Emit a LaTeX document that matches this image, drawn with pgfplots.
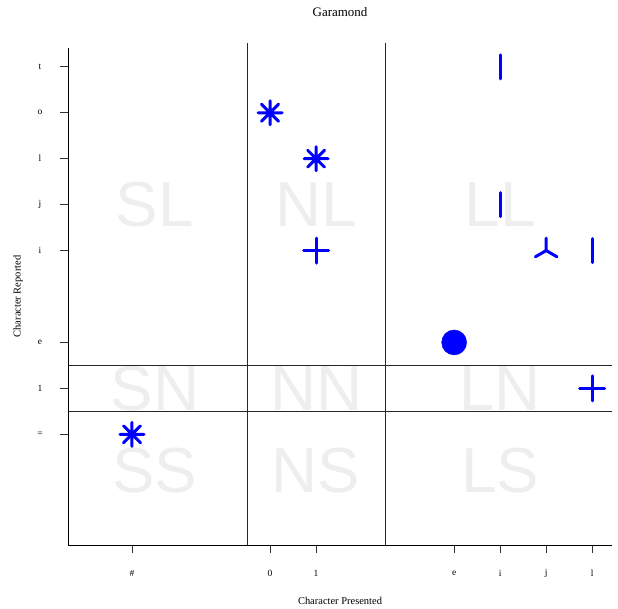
\documentclass[border=0pt]{standalone}
\usepackage{pgfplots}
\pgfplotsset{compat=1.18}
\usepackage{fontspec}
\setmainfont{Liberation Serif}
\newfontfamily\wmfont{Liberation Sans}
\definecolor{wm}{gray}{0.935}
\pgfdeclareplotmark{sun8}{%
  \pgfpathmoveto{\pgfqpoint{-\pgfplotmarksize}{0pt}}\pgfpathlineto{\pgfqpoint{\pgfplotmarksize}{0pt}}%
  \pgfpathmoveto{\pgfqpoint{0pt}{-\pgfplotmarksize}}\pgfpathlineto{\pgfqpoint{0pt}{\pgfplotmarksize}}%
  \pgfpathmoveto{\pgfqpoint{-.70710678\pgfplotmarksize}{-.70710678\pgfplotmarksize}}\pgfpathlineto{\pgfqpoint{.70710678\pgfplotmarksize}{.70710678\pgfplotmarksize}}%
  \pgfpathmoveto{\pgfqpoint{-.70710678\pgfplotmarksize}{.70710678\pgfplotmarksize}}\pgfpathlineto{\pgfqpoint{.70710678\pgfplotmarksize}{-.70710678\pgfplotmarksize}}%
  \pgfusepathqstroke}
\pgfdeclareplotmark{sun3}{%
  \pgfpathmoveto{\pgfpointorigin}\pgfpathlineto{\pgfqpoint{0pt}{\pgfplotmarksize}}%
  \pgfpathmoveto{\pgfpointorigin}\pgfpathlineto{\pgfqpoint{-.8660254\pgfplotmarksize}{-.5\pgfplotmarksize}}%
  \pgfpathmoveto{\pgfpointorigin}\pgfpathlineto{\pgfqpoint{.8660254\pgfplotmarksize}{-.5\pgfplotmarksize}}%
  \pgfusepathqstroke}
\begin{document}
\begin{tikzpicture}
\path[use as bounding box] (0,0) rectangle (618bp,609bp);
\begin{axis}[
  at={(68bp,64bp)}, anchor=south west, scale only axis,
  width=544bp, height=497bp,
  xmin=-4.39, xmax=7.43, ymin=-2.41, ymax=8.41,
  axis lines=left, axis line style={-, line width=0.8bp, black},
  xtick={-3,0,1,4,5,6,7}, xticklabels={\#,0,1,e,i,j,l},
  ytick={0,1,2,4,5,6,7,8}, yticklabels={=,1,e,i,j,l,o,t},
  tick align=outside, major tick length=8bp,
  tick style={line width=0.8bp, black!80},
  ticklabel style={font=\fontsize{9.5}{11}\selectfont},
  xticklabel style={anchor=center, yshift=-20bp},
  yticklabel style={anchor=center, xshift=-20bp},
  title=Garamond,
  title style={font=\fontsize{13}{15}\selectfont, at={(axis description cs:0.5,1.0594)}, anchor=center},
  xlabel=Character Presented,
  xlabel style={font=\fontsize{10.5}{12}\selectfont, at={(axis description cs:0.5,-0.1127)}, anchor=center},
  ylabel=Character Reported,
  ylabel style={font=\fontsize{10.5}{12}\selectfont, at={(axis description cs:-0.0919,0.5)}, anchor=center},
  clip=false,
]
% watermark region labels
\foreach \lab/\xx/\yy in {SL/-2.5/5, NL/1/5, LL/5/5, SN/-2.5/1, NN/1/1, LN/5/1, SS/-2.5/-0.8, NS/1/-0.8, LS/5/-0.8}{
  \edef\tmp{\noexpand\node[text=wm, font=\noexpand\wmfont\noexpand\fontsize{64}{64}\noexpand\selectfont, anchor=center, inner sep=0pt] at (axis cs:\xx,\yy) {\lab};}
  \tmp
}
% dividing lines
\addplot[black!85, line width=0.8bp] coordinates {(-0.5,-2.41) (-0.5,8.51)};
\addplot[black!85, line width=0.8bp] coordinates {(2.5,-2.41) (2.5,8.51)};
\addplot[black!85, line width=0.8bp] coordinates {(-4.39,0.5) (7.43,0.5)};
\addplot[black!85, line width=0.8bp] coordinates {(-4.39,1.5) (7.43,1.5)};
% sunflower-like marks
\addplot[only marks, mark=sun8, mark size=12bp, blue, mark options={line width=3bp, line cap=round}] coordinates {(-3,0) (0,7) (1,6)};
\addplot[only marks, mark=+, mark size=12.5bp, blue, mark options={line width=3bp, line cap=round}] coordinates {(1,4) (7,1)};
\addplot[only marks, mark=|, mark size=12bp, blue, mark options={line width=3bp, line cap=round}] coordinates {(5,8) (5,5) (7,4)};
\addplot[only marks, mark=sun3, mark size=12.5bp, blue, mark options={line width=3bp, line cap=round}] coordinates {(6,4)};
\addplot[only marks, mark=*, mark size=12.5bp, blue, mark options={fill=blue, draw=blue}] coordinates {(4,2)};
\end{axis}
\end{tikzpicture}
\end{document}
